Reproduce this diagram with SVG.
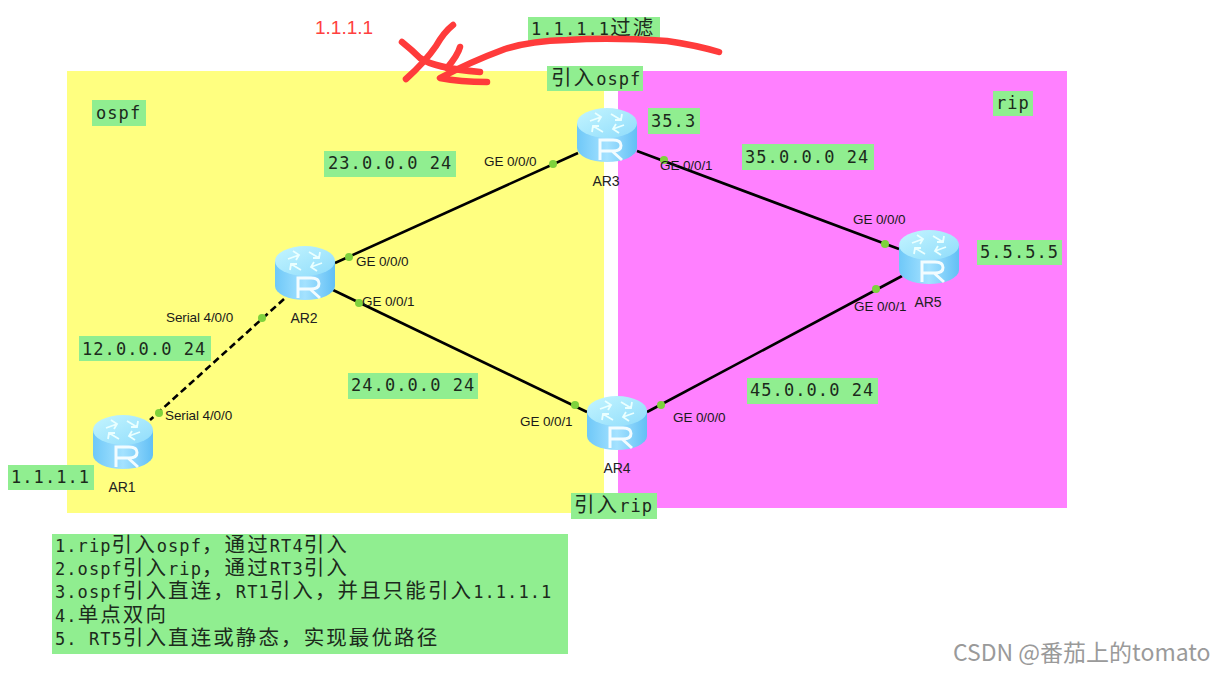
<svg xmlns="http://www.w3.org/2000/svg" xmlns:xlink="http://www.w3.org/1999/xlink" width="1226" height="674" viewBox="0 0 1226 674">
<style>
.box{fill:#90ee90}
.t{font-family:"DejaVu Sans Mono","Noto Sans CJK SC",monospace;font-size:17px;letter-spacing:1.07px;fill:#1c2a1c}
.c{font-family:"Noto Sans CJK SC",sans-serif;font-size:20.5px;letter-spacing:2.1px}
.p{font-family:"Liberation Sans",Arial,sans-serif;font-size:13.5px;letter-spacing:-.1px;fill:#1a1a1a}
.n{font-family:"Liberation Sans",Arial,sans-serif;font-size:14px;fill:#222;text-anchor:middle}
.l{stroke:#000;stroke-width:2.6;fill:none}
.d{fill:#7ed23c}
.s{stroke:#ff3b3b;stroke-width:6.5;fill:none;stroke-linecap:round;stroke-linejoin:round}
</style>
<defs>
<linearGradient id="side" x1="0" x2="1" y1="0" y2="0"><stop offset="0" stop-color="#6fc8f8"/><stop offset="0.5" stop-color="#a4e2ff"/><stop offset="1" stop-color="#62bff5"/></linearGradient>
<linearGradient id="top" x1="0" x2="1" y1="0" y2="1"><stop offset="0" stop-color="#c4f5ff"/><stop offset="1" stop-color="#8fdcfb"/></linearGradient>
<symbol id="router" width="60" height="54" viewBox="0 0 60 54" overflow="visible">
<path d="M0 15V40A30 14 0 0 0 60 40V15Z" fill="url(#side)"/>
<ellipse cx="30" cy="15" rx="30" ry="15" fill="url(#top)"/>
<g fill="none" stroke="#eaffff" stroke-width="1.800"><path d="M13 13L24 9M18 5L24 9L21 14M47 17L36 21M42 25L36 21L39 16M34 6L44 12M45 6L44 12L38 12M26 24L16 18M15 24L16 18L22 18"/></g>
<path d="M23 52V32H36Q44 32 44 37.500Q44 43 36 43H23M35 43L45 52" fill="none" stroke="#f2fcff" stroke-width="3"/>
</symbol>
</defs>
<rect width="1226" height="674" fill="#fff"/>
<rect x="67" y="71" width="537" height="442" fill="#ffff80"/>
<rect x="618" y="71" width="449" height="437" fill="#ff80ff"/>

<g id="connectors">
<path class="l" d="M335 263L578 153"/>
<path class="l" d="M637 151L899 249"/>
<path class="l" d="M333 290L587 412"/>
<path class="l" d="M647 412L902 276"/>
<path class="l" stroke-dasharray="7 4" d="M284 299L150 420"/>
<circle class="d" cx="349" cy="257" r="4"/><circle class="d" cx="359" cy="303" r="4"/>
<circle class="d" cx="262" cy="318" r="4"/><circle class="d" cx="159" cy="413" r="4"/>
<circle class="d" cx="553" cy="164" r="4"/><circle class="d" cx="664" cy="160" r="4"/>
<circle class="d" cx="885" cy="244" r="4"/><circle class="d" cx="876" cy="289" r="4"/>
<circle class="d" cx="575" cy="405" r="4"/><circle class="d" cx="661" cy="405" r="4"/>
</g>
<g id="port-labels">
<text class="p" x="484" y="166">GE 0/0/0</text>
<text class="p" x="660" y="170">GE 0/0/1</text>
<text class="p" x="356" y="266">GE 0/0/0</text>
<text class="p" x="362" y="306">GE 0/0/1</text>
<text class="p" x="166" y="322">Serial 4/0/0</text>
<text class="p" x="165" y="420">Serial 4/0/0</text>
<text class="p" x="853" y="224">GE 0/0/0</text>
<text class="p" x="854" y="311">GE 0/0/1</text>
<text class="p" x="520" y="426">GE 0/0/1</text>
<text class="p" x="673" y="422">GE 0/0/0</text>
</g>

<g id="AR1"><use xlink:href="#router" href="#router" x="93" y="415"/><text class="n" x="122" y="492">AR1</text></g>
<g id="AR2"><use xlink:href="#router" href="#router" x="275" y="246"/><text class="n" x="304" y="323">AR2</text></g>
<g id="AR3"><use xlink:href="#router" href="#router" x="577" y="108"/><text class="n" x="606" y="186">AR3</text></g>
<g id="AR4"><use xlink:href="#router" href="#router" x="587" y="396"/><text class="n" x="617" y="473">AR4</text></g>
<g id="AR5"><use xlink:href="#router" href="#router" x="899" y="230"/><text class="n" x="928" y="307">AR5</text></g>

<g id="label-ospf"><rect class="box" x="92" y="100" width="54" height="26"/><text class="t" x="96" y="119">ospf</text></g>
<g id="label-rip"><rect class="box" x="993" y="91" width="40" height="25"/><text class="t" x="996" y="109">rip</text></g>
<g id="label-import-ospf"><rect class="box" x="547" y="66" width="96" height="25"/><text class="t" x="551" y="85"><tspan class="c">引入</tspan>ospf</text></g>
<g id="label-filter"><rect class="box" x="528" y="17" width="132" height="25"/><text class="t" x="531" y="35">1.1.1.1<tspan class="c">过滤</tspan></text></g>
<g id="label-35-3"><rect class="box" x="648" y="108" width="52" height="26"/><text class="t" x="651" y="127">35.3</text></g>
<g id="label-23"><rect class="box" x="324" y="151" width="132" height="26"/><text class="t" x="328" y="169">23.0.0.0 24</text></g>
<g id="label-35"><rect class="box" x="742" y="144" width="132" height="26"/><text class="t" x="745" y="163">35.0.0.0 24</text></g>
<g id="label-5555"><rect class="box" x="977" y="240" width="85" height="25"/><text class="t" x="980" y="258">5.5.5.5</text></g>
<g id="label-12"><rect class="box" x="79" y="336" width="132" height="25"/><text class="t" x="82" y="355">12.0.0.0 24</text></g>
<g id="label-24"><rect class="box" x="348" y="373" width="130" height="26"/><text class="t" x="351" y="391">24.0.0.0 24</text></g>
<g id="label-45"><rect class="box" x="747" y="378" width="131" height="26"/><text class="t" x="750" y="396">45.0.0.0 24</text></g>
<g id="label-1111"><rect class="box" x="8" y="465" width="86" height="25"/><text class="t" x="11" y="483">1.1.1.1</text></g>
<g id="label-import-rip"><rect class="box" x="571" y="493" width="86" height="26"/><text class="t" x="574" y="512"><tspan class="c">引入</tspan>rip</text></g>

<g id="notes"><rect class="box" x="52" y="534" width="516" height="120"/>
<text class="t" x="55" y="552">1.rip<tspan class="c">引入</tspan>ospf<tspan class="c">，通过</tspan>RT4<tspan class="c">引入</tspan></text>
<text class="t" x="55" y="575">2.ospf<tspan class="c">引入</tspan>rip<tspan class="c">，通过</tspan>RT3<tspan class="c">引入</tspan></text>
<text class="t" x="55" y="598">3.ospf<tspan class="c">引入直连，</tspan>RT1<tspan class="c">引入，并且只能引入</tspan>1.1.1.1</text>
<text class="t" x="55" y="622">4.<tspan class="c">单点双向</tspan></text>
<text class="t" x="55" y="645">5. RT5<tspan class="c">引入直连或静态，实现最优路径</tspan></text>
</g>

<g id="annotation">
<text x="315" y="34" font-family="'Liberation Sans',Arial,sans-serif" font-size="19" fill="#ff4040">1.1.1.1</text>
<path class="s" d="M453 25Q444 32 436 46Q425 62 406 79"/>
<path class="s" d="M402 42Q412 50 420 58Q434 68 480 72"/>
<path class="s" d="M719 52Q695 45 667 41Q610 37 567 40Q530 41 505 49Q470 62 440 78Q460 82 487 82"/>
<path class="s" d="M460 47Q458 55 447 68"/>
</g>

<text x="953" y="661" font-family="'Noto Sans CJK SC','Noto Sans',sans-serif" font-size="23" fill="#9a9a9a">CSDN @番茄上的tomato</text>
</svg>
